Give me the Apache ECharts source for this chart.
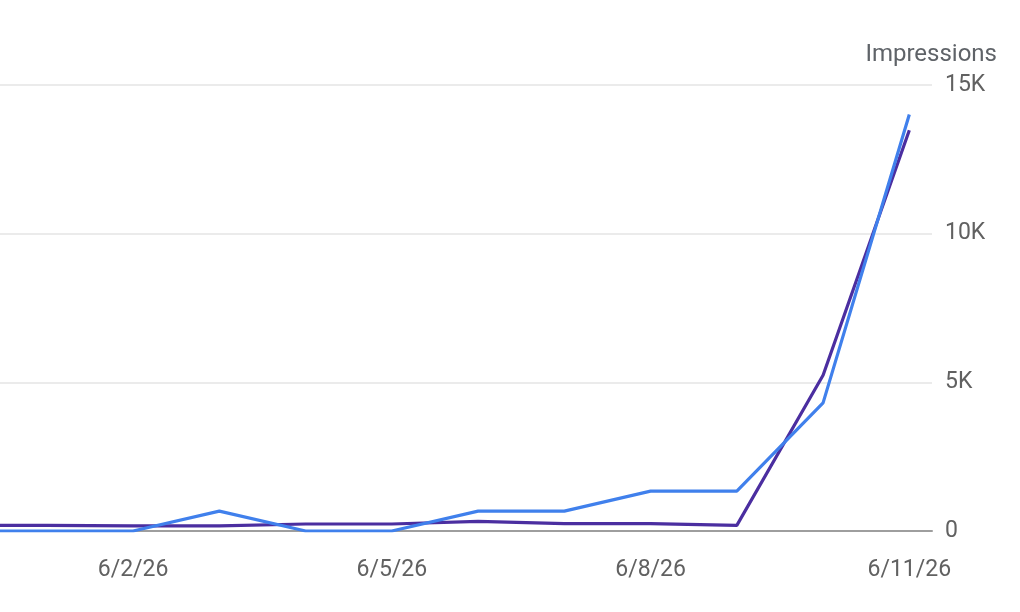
<!DOCTYPE html>
<html>
<head>
<meta charset="utf-8">
<script src="https://cdn.jsdelivr.net/npm/echarts@6/dist/echarts.min.js"></script>
<style>
  html, body { margin: 0; padding: 0; background: #fff; }
  #main { width: 1020px; height: 612px; }
</style>
</head>
<body>
<div id="main"></div>
<script>
// day index: 0 = 5/31/26 ... 11 = 6/11/26
var dayLabels = ['5/31/26', '6/1/26', '6/2/26', '6/3/26', '6/4/26', '6/5/26',
  '6/6/26', '6/7/26', '6/8/26', '6/9/26', '6/10/26', '6/11/26'];
var tickDays = [2, 5, 8, 11];
var yTicks = [0, 5000, 10000, 15000];

// two series
var purpleValues = [190, 190, 170, 175, 235, 235, 325, 250, 250, 190, 5240, 13480];
var blueValues = [0, 0, 0, 670, 0, 0, 670, 670, 1340, 1340, 4310, 14010];

function toPairs(vals) {
  return vals.map(function (v, i) { return [i, v]; });
}

var myChart = echarts.init(document.getElementById('main'));

var option = {
  animation: false,
  backgroundColor: '#ffffff',
  textStyle: { fontFamily: 'Roboto' },
  title: {
    text: 'Impressions',
    right: 18,
    top: 38,
    textStyle: { fontFamily: 'Roboto', fontSize: 24, fontWeight: 'normal', color: '#5f6368' }
  },
  grid: {
    left: 0,
    right: 88,
    top: 85,
    bottom: 81
  },
  xAxis: {
    type: 'value',
    min: 0.457,
    max: 11.263,
    splitLine: { show: false },
    axisTick: { show: false },
    axisLine: { show: true, onZero: false, lineStyle: { color: '#9e9e9e', width: 2 } },
    axisLabel: {
      customValues: tickDays,
      margin: 28,
      fontSize: 23,
      color: '#616161',
      fontFamily: 'Roboto',
      formatter: function (v) { return dayLabels[Math.round(v)]; }
    }
  },
  yAxis: {
    type: 'value',
    position: 'right',
    min: yTicks[0],
    max: yTicks[yTicks.length - 1],
    interval: 5000,
    axisLine: { show: false },
    axisTick: { show: false },
    splitLine: { lineStyle: { color: '#ebebeb', width: 2 } },
    axisLabel: {
      margin: 13,
      fontSize: 23,
      color: '#616161',
      fontFamily: 'Roboto',
      formatter: function (v) { return v === 0 ? '0' : (v / 1000) + 'K'; }
    }
  },
  series: [
    {
      type: 'line',
      data: toPairs(purpleValues),
      showSymbol: false,
      clip: true,
      lineStyle: { color: '#4b2ea0', width: 3.2 },
      itemStyle: { color: '#4b2ea0' }
    },
    {
      type: 'line',
      data: toPairs(blueValues),
      showSymbol: false,
      clip: true,
      lineStyle: { color: '#4080ec', width: 3.2 },
      itemStyle: { color: '#4080ec' }
    }
  ]
};

myChart.setOption(option);
</script>
</body>
</html>
